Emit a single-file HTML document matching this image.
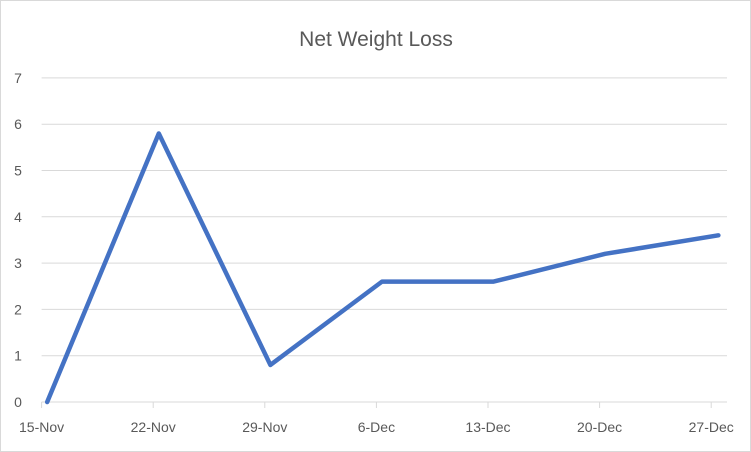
<!DOCTYPE html>
<html><head><meta charset="utf-8"><style>
html,body{margin:0;padding:0;background:#fff}
svg{display:block;font-family:"Liberation Sans",sans-serif}
</style></head><body>
<svg id="chart" width="751" height="452">
<rect x="0.5" y="0.5" width="750" height="451" fill="#fff" stroke="#d9d9d9"/>
<text x="376" y="46" text-anchor="middle" font-size="21" fill="#595959">Net Weight Loss</text>
<g id="grid"></g><g id="axes"></g><g id="series"></g>
</svg>
<script>
const categories=["15-Nov","22-Nov","29-Nov","6-Dec","13-Dec","20-Dec","27-Dec"];
const dayOffsets=[0.35,7.35,14.35,21.35,28.35,35.35,42.45];
const values=[0,5.8,0.8,2.6,2.6,3.2,3.6];
const yTicks=[0,1,2,3,4,5,6,7];
const NS="http://www.w3.org/2000/svg";
const x0=41.6,pxPerDay=111.6/7,xEnd=727;
const y0=402,pxPerUnit=46.3;
const xs=d=>x0+d*pxPerDay, ys=v=>y0-v*pxPerUnit;
function mk(t,a,p){const e=document.createElementNS(NS,t);for(const k in a)e.setAttribute(k,a[k]);p.appendChild(e);return e;}
const grid=document.getElementById('grid'),axes=document.getElementById('axes'),series=document.getElementById('series');
yTicks.forEach(v=>{
 const l=mk('line',{x1:x0,x2:xEnd,y1:ys(v),y2:ys(v),stroke:'#d9d9d9','stroke-width':1},grid);
 
 
 const t=mk('text',{x:18,y:ys(v)+5,'text-anchor':'middle','font-size':14,fill:'#595959'},axes);
 t.textContent=v;
 
 
});
categories.forEach((c,i)=>{
 const x=xs(i*7);
 const tk=mk('line',{x1:x,x2:x,y1:y0,y2:y0+6,stroke:'#d9d9d9','stroke-width':1},axes);
 
 
 const t=mk('text',{x:x,y:y0+30,'text-anchor':'middle','font-size':14,fill:'#595959'},axes);
 t.textContent=c;
 
 
});
const pts=values.map((v,i)=>xs(dayOffsets[i])+','+ys(v)).join(' ');
const pl=mk('polyline',{points:pts,fill:'none',stroke:'#4472C4','stroke-width':4.5,'stroke-linejoin':'round','stroke-linecap':'round'},series);


</script>
</body></html>
